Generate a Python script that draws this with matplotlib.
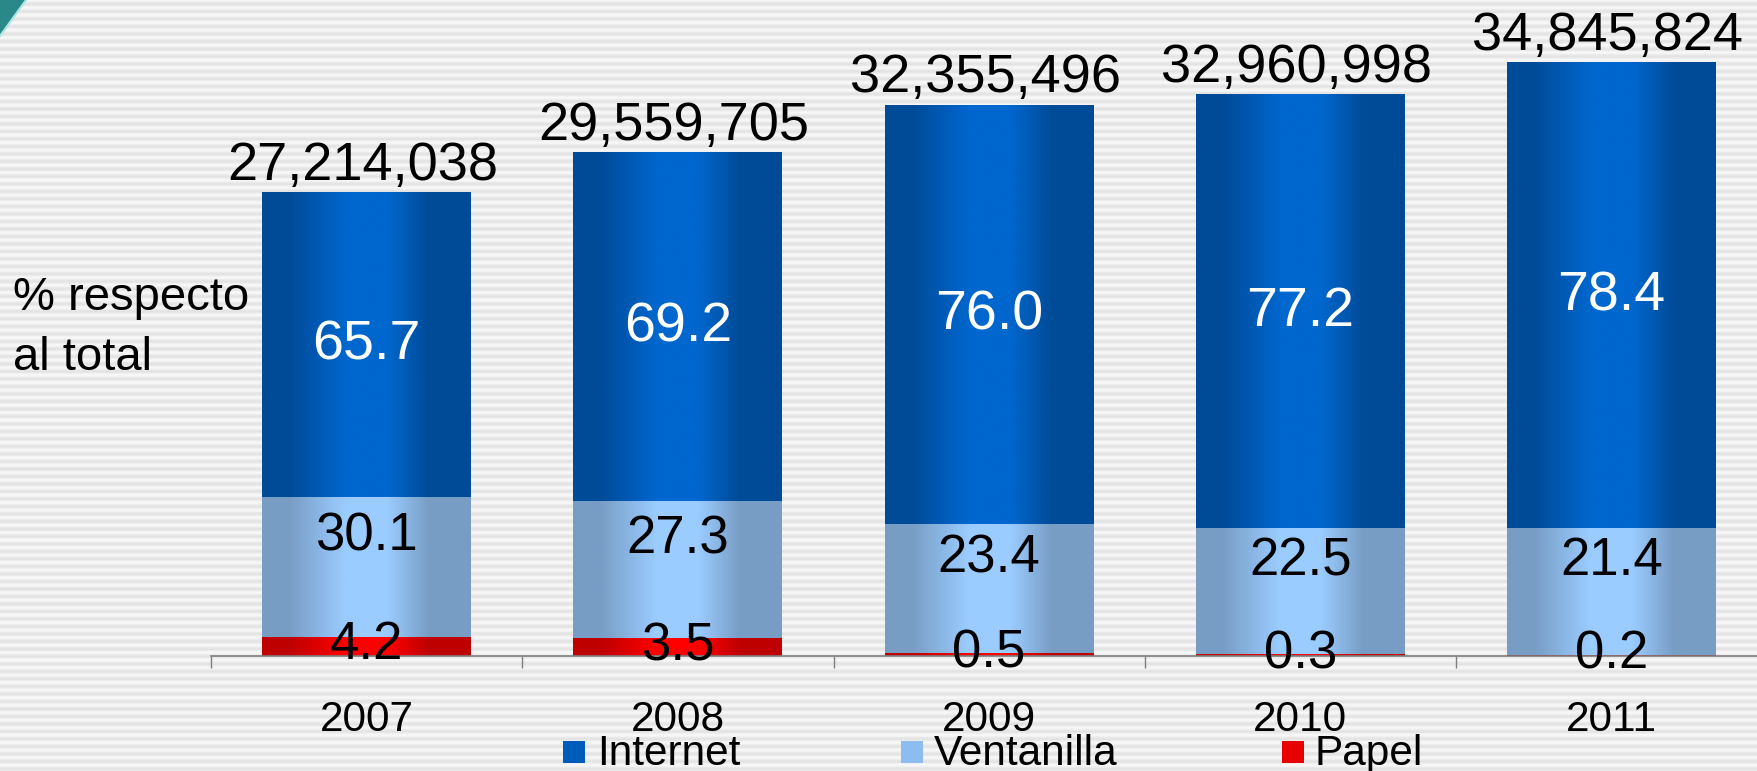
import numpy as np
import matplotlib
matplotlib.use("Agg")
import matplotlib.pyplot as plt
from matplotlib.patches import Rectangle, Polygon
from matplotlib.colors import to_rgb

plt.rcParams['font.family'] = ['Liberation Sans', 'DejaVu Sans']

# ---------------- data ----------------
years = ['2007', '2008', '2009', '2010', '2011']
totals = [27214038, 29559705, 32355496, 32960998, 34845824]
internet = [65.7, 69.2, 76.0, 77.2, 78.4]
ventanilla = [30.1, 27.3, 23.4, 22.5, 21.4]
papel = [4.2, 3.5, 0.5, 0.3, 0.2]
series_names = ['Internet', 'Ventanilla', 'Papel']

W, H = 1758, 771
DPI = 100
fig = plt.figure(figsize=(W / DPI, H / DPI), dpi=DPI)

def fx(px):
    return px / W

def fy(py):
    return 1 - py / H

# ---------------- striped background ----------------
bg = fig.add_axes([0, 0, 1, 1], zorder=-10)
rows = np.arange(H * 4) / 4.0
val = 0.5 + 0.5 * np.cos(2 * np.pi * rows / 7.5)
c_dark = np.array(to_rgb('#E3E3E3'))
c_light = np.array(to_rgb('#F8F8F8'))
img = c_dark[None, :] + (c_light - c_dark)[None, :] * val[:, None]
bg.imshow(img[:, None, :], extent=(0, 1, 0, 1), aspect='auto', interpolation='bilinear')
bg.set_xlim(0, 1)
bg.set_ylim(0, 1)
bg.axis('off')

# teal corner decoration
bg.add_patch(Polygon([(0, 1), (fx(26), 1), (0, fy(36))], closed=True,
                     facecolor='#2A8888', edgecolor='none', zorder=2))
bg.plot([fx(26), 0], [1, fy(36)], color='#A8E6E6', lw=1.5, zorder=3)

# ---------------- main axes ----------------
base_px = 656
px_per_unit = 593.3 / totals[-1]
ymax = base_px / px_per_unit
x_left_px, x0_px, spacing_px = 211, 366, 311.4
xmin = (x_left_px - x0_px) / spacing_px
xmax = (W - x0_px) / spacing_px

ax = fig.add_axes([fx(x_left_px), fy(base_px), 1 - fx(x_left_px), base_px / H])
ax.set_facecolor('none')
ax.patch.set_alpha(0)

bar_w = 209 / spacing_px

def gradient(dark, light, n=256):
    stops = [0.0, 0.13, 0.40, 0.60, 0.80, 1.0]
    t = np.linspace(0, 1, n)
    d = np.array(to_rgb(dark))
    l = np.array(to_rgb(light))
    w = np.interp(t, stops, [0, 0, 1, 1, 0, 0])
    return d[None, :] + (l - d)[None, :] * w[:, None]

grads = {
    'Internet': gradient('#004B98', '#0067CE'),
    'Ventanilla': gradient('#789DC5', '#9BCCFF'),
    'Papel': gradient('#BE0000', '#FF0000'),
}

x = np.arange(len(years))
tot = np.array(totals, dtype=float)
pap = tot * np.array(papel) / 100
ven = tot * np.array(ventanilla) / 100
intr = tot * np.array(internet) / 100

segments = [('Papel', np.zeros_like(tot), pap),
            ('Ventanilla', pap, ven),
            ('Internet', pap + ven, intr)]

for name, bottom, height in segments:
    g = grads[name]
    for i in range(len(years)):
        x0 = x[i] - bar_w / 2
        x1 = x[i] + bar_w / 2
        ax.imshow(g[None, :, :], extent=(x0, x1, bottom[i], bottom[i] + height[i]),
                  aspect='auto', interpolation='bilinear', zorder=2)

ax.set_xlim(xmin, xmax)
ax.set_ylim(0, ymax)

# axis styling
for s in ['top', 'right', 'left']:
    ax.spines[s].set_visible(False)
ax.spines['bottom'].set_color('#7F7F7F')
ax.spines['bottom'].set_linewidth(1.2)
ax.spines['bottom'].set_zorder(3)
ax.set_yticks([])
ax.set_xticks(np.arange(len(years)) - 0.5)
ax.set_xticklabels([])
ax.tick_params(axis='x', direction='out', length=8.6, width=1.0, color='#7F7F7F')

# value labels
def cap_half(fs):
    return 0.716 * fs * DPI / 72 / 2

tot_fs, int_fs, seg_fs = 39, 40, 38
for i in range(len(years)):
    # total above bar
    ax.annotate(f'{totals[i]:,}', xy=(x[i], tot[i]), xytext=(-4, 13),
                textcoords='offset pixels', ha='center', va='baseline',
                fontsize=tot_fs, color='black', zorder=5, annotation_clip=False)
    # internet
    yc = pap[i] + ven[i] + intr[i] / 2
    ax.annotate(f'{internet[i]:.1f}', xy=(x[i], yc), xytext=(0, 5 - cap_half(int_fs)),
                textcoords='offset pixels', ha='center', va='baseline',
                fontsize=int_fs, color='white', zorder=5)
    # ventanilla
    yc = pap[i] + ven[i] / 2
    ax.annotate(f'{ventanilla[i]:.1f}', xy=(x[i], yc), xytext=(0, 35 - cap_half(seg_fs)),
                textcoords='offset pixels', ha='center', va='baseline',
                fontsize=seg_fs, color='black', zorder=5)
    # papel
    yc = pap[i] / 2
    ax.annotate(f'{papel[i]:.1f}', xy=(x[i], yc), xytext=(0, 6 - cap_half(seg_fs)),
                textcoords='offset pixels', ha='center', va='baseline',
                fontsize=seg_fs, color='black', zorder=5, annotation_clip=False)
    # year label
    ax.annotate(years[i], xy=(x[i], 0), xytext=(0, -(731 - base_px)),
                textcoords='offset pixels', ha='center', va='baseline',
                fontsize=30.5, color='black', annotation_clip=False)

# side text
fig.text(fx(13), fy(310), '% respecto', fontsize=34, ha='left', va='baseline')
fig.text(fx(13), fy(370), 'al total', fontsize=34, ha='left', va='baseline')

# legend
leg_sq_x = [563, 901, 1282]
leg_txt_x = [597, 934, 1315]
leg_cols = ['#005CBA', '#8DBDEE', '#E80000']
for name, sx, tx, col in zip(series_names, leg_sq_x, leg_txt_x, leg_cols):
    fig.patches.append(Rectangle((fx(sx), fy(763)), 22 / W, 22 / H,
                                 transform=fig.transFigure, facecolor=col,
                                 edgecolor='none', zorder=5))
    fig.text(fx(tx), fy(765), name, fontsize=30.5, ha='left', va='baseline')

fig.savefig('out.png', dpi=DPI)
